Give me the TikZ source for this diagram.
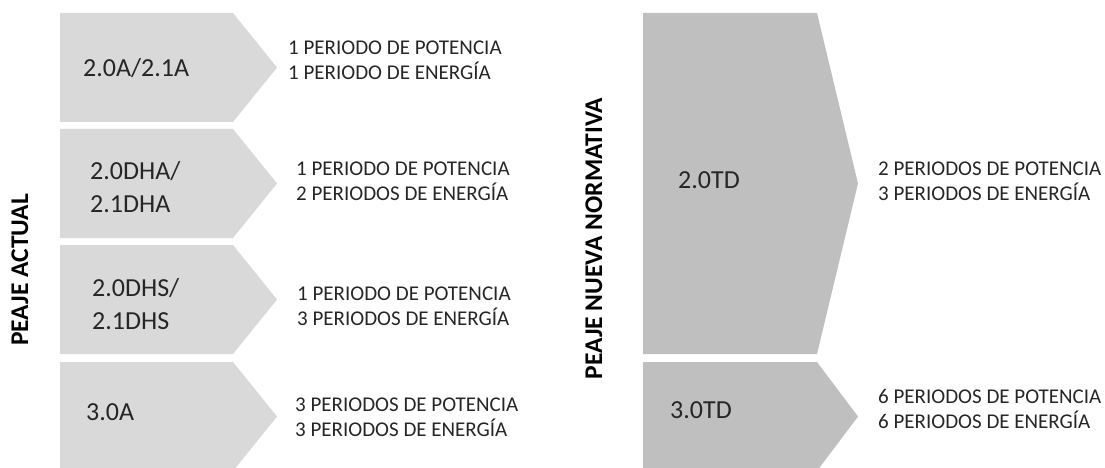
\documentclass[tikz,border=0pt]{standalone}
\usepackage{fontspec}
\setmainfont{Carlito}
\definecolor{lightbox}{HTML}{D9D9D9}
\definecolor{darkbox}{HTML}{BFBFBF}
\definecolor{inkgray}{HTML}{262626}
\begin{document}
\begin{tikzpicture}[x=1pt,y=-1pt,
  tollname/.style={anchor=base west, inner sep=0pt, align=left, text=inkgray,
    font=\fontsize{26}{33}\selectfont},
  periods/.style={anchor=base west, inner sep=0pt, align=left, text=inkgray,
    font=\fontsize{21}{25}\selectfont},
  sidetitle/.style={anchor=base, inner sep=0pt, rotate=90, text=black,
    font=\fontsize{25.5}{30}\selectfont\bfseries}]
\useasboundingbox (0,0) rectangle (1105,468);
% peaje actual
\fill[lightbox] (60,13) -- (233,13) -- (277,67.5) -- (233,122) -- (60,122) -- cycle;
\fill[lightbox] (60,129) -- (233,129) -- (277,183.5) -- (233,238) -- (60,238) -- cycle;
\fill[lightbox] (60,245) -- (233,245) -- (277,299.5) -- (233,354) -- (60,354) -- cycle;
\fill[lightbox] (60,362) -- (233,362) -- (277,416.5) -- (233,471) -- (60,471) -- cycle;
\node[tollname] (a1) at (83,77) {2.0A/2.1A};
\node[tollname] (a2) at (90,212) {2.0DHA/\\2.1DHA};
\node[tollname] (a3) at (92,329) {2.0DHS/\\2.1DHS};
\node[tollname] (a4) at (86,420) {3.0A};
\node[periods] (p1) at (288,80) {1 PERIODO DE POTENCIA\\1 PERIODO DE ENERGÍA};
\node[periods] (p2) at (296,200) {1 PERIODO DE POTENCIA\\2 PERIODOS DE ENERGÍA};
\node[periods] (p3) at (297,325) {1 PERIODO DE POTENCIA\\3 PERIODOS DE ENERGÍA};
\node[periods] (p4) at (295,436) {3 PERIODOS DE POTENCIA\\3 PERIODOS DE ENERGÍA};
\node[sidetitle] (actual) at (28,270) {PEAJE ACTUAL};
% peaje nueva normativa
\fill[darkbox] (643,13) -- (817,13) -- (858,183.5) -- (817,354) -- (643,354) -- cycle;
\fill[darkbox] (643,362) -- (817,362) -- (858,416.5) -- (817,471) -- (643,471) -- cycle;
\node[tollname] (n1) at (678,188) {2.0TD};
\node[tollname] (n2) at (670,418) {3.0TD};
\node[periods] (q1) at (878,200) {2 PERIODOS DE POTENCIA\\3 PERIODOS DE ENERGÍA};
\node[periods] (q2) at (878,428) {6 PERIODOS DE POTENCIA\\6 PERIODOS DE ENERGÍA};
\node[sidetitle] (nueva) at (602,238.5) {PEAJE NUEVA NORMATIVA};
\end{tikzpicture}
\end{document}
